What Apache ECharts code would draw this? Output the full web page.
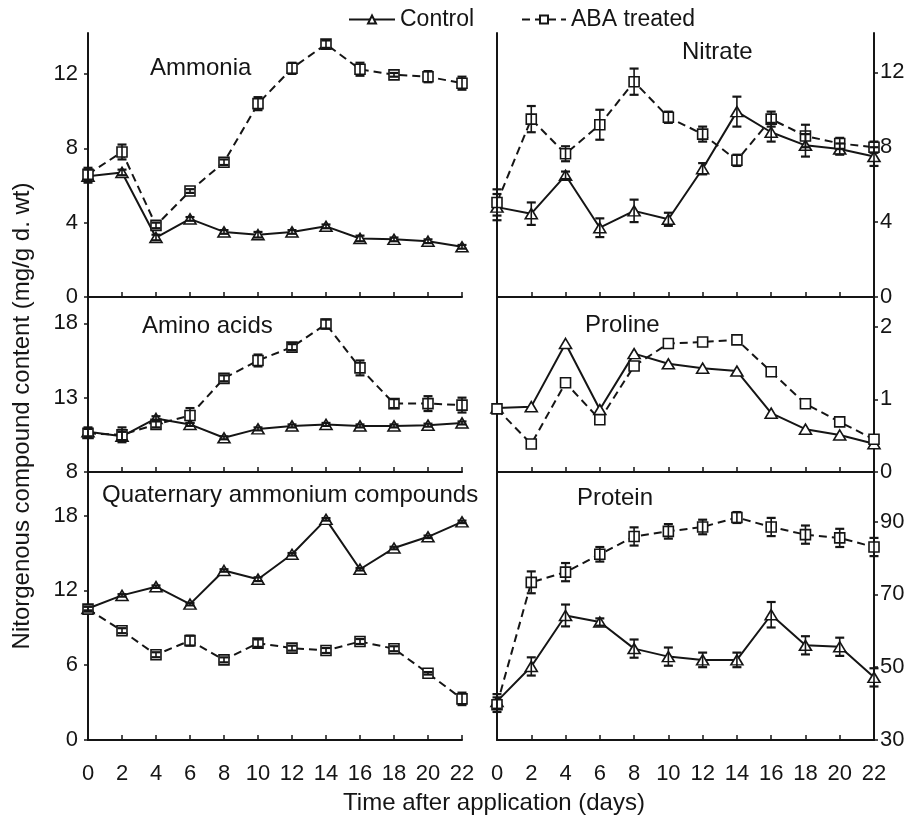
<!DOCTYPE html>
<html>
<head>
<meta charset="utf-8">
<script src="https://cdn.jsdelivr.net/npm/echarts@6/dist/echarts.min.js"></script>
<style>html,body{margin:0;padding:0;background:#fff;}#chart{width:914px;height:817px;}</style>
</head>
<body>
<div id="chart"></div>
<script>
// ---- data (days after application) ----
const days = [0, 2, 4, 6, 8, 10, 12, 14, 16, 18, 20, 22];
const xTickLabels = ['0','2','4','6','8','10','12','14','16','18','20','22'];

const ammoniaControl = [6.5, 6.7, 3.2, 4.2, 3.5, 3.35, 3.5, 3.8, 3.15, 3.1, 3.0, 2.7];
const ammoniaControlErr = [0.35, 0.15, 0.15, 0.1, 0.1, 0.15, 0.1, 0.1, 0.15, 0.1, 0.1, 0.1];
const ammoniaABA = [6.6, 7.8, 3.85, 5.7, 7.25, 10.4, 12.3, 13.6, 12.25, 11.95, 11.85, 11.5];
const ammoniaABAErr = [0.35, 0.4, 0.15, 0.1, 0.15, 0.35, 0.3, 0.2, 0.35, 0.1, 0.3, 0.35];

const nitrateControl = [4.8, 4.45, 6.5, 3.7, 4.6, 4.15, 6.85, 9.9, 8.8, 8.1, 7.9, 7.5];
const nitrateControlErr = [0.7, 0.6, 0.2, 0.5, 0.6, 0.35, 0.3, 0.8, 0.5, 0.6, 0.3, 0.5];
const nitrateABA = [5.05, 9.5, 7.65, 9.2, 11.5, 9.6, 8.7, 7.3, 9.5, 8.6, 8.2, 8.0];
const nitrateABAErr = [0.7, 0.7, 0.4, 0.8, 0.7, 0.3, 0.4, 0.3, 0.4, 0.6, 0.3, 0.3];

const aminoControl = [10.7, 10.4, 11.6, 11.2, 10.3, 10.9, 11.1, 11.2, 11.1, 11.1, 11.15, 11.3];
const aminoControlErr = [0.3, 0.3, 0.15, 0.1, 0.1, 0.1, 0.1, 0.1, 0.1, 0.1, 0.1, 0.1];
const aminoABA = [10.6, 10.5, 11.2, 11.8, 14.3, 15.5, 16.4, 17.95, 15.0, 12.6, 12.6, 12.5];
const aminoABAErr = [0.3, 0.5, 0.2, 0.5, 0.2, 0.4, 0.2, 0.3, 0.5, 0.3, 0.5, 0.5];

const prolineControl = [0.88, 0.9, 1.77, 0.86, 1.63, 1.49, 1.43, 1.39, 0.81, 0.59, 0.51, 0.39];
const prolineABA = [0.87, 0.385, 1.23, 0.72, 1.46, 1.77, 1.79, 1.82, 1.38, 0.94, 0.69, 0.45];

const quatControl = [10.55, 11.6, 12.3, 10.9, 13.6, 12.9, 14.9, 17.7, 13.7, 15.4, 16.3, 17.5];
const quatControlErr = [0.15, 0.1, 0.1, 0.1, 0.1, 0.15, 0.1, 0.1, 0.1, 0.1, 0.1, 0.1];
const quatABA = [10.5, 8.77, 6.84, 7.97, 6.43, 7.77, 7.37, 7.18, 7.9, 7.32, 5.35, 3.3];
const quatABAErr = [0.2, 0.2, 0.2, 0.4, 0.2, 0.3, 0.2, 0.2, 0.2, 0.2, 0.1, 0.5];

const proteinControl = [40.6, 50.2, 64.2, 62.4, 55.1, 52.9, 52.0, 52.0, 64.4, 56.0, 55.6, 47.2];
const proteinControlErr = [2, 2.5, 3, 1, 2.5, 2.5, 2, 2, 3.5, 2.5, 2.5, 2.5];
const proteinABA = [39.7, 73.3, 76.1, 81.0, 85.9, 87.3, 88.5, 91.1, 88.5, 86.4, 85.5, 83.0];
const proteinABAErr = [2, 3, 2.5, 2, 2.5, 2, 2, 1.5, 2.5, 2.5, 2.5, 2.5];

const panelTitles = ['Ammonia', 'Nitrate', 'Amino acids', 'Proline', 'Quaternary ammonium compounds', 'Protein'];
const seriesNames = ['Control', 'ABA treated'];

// ---- layout ----
const FONT = 'Liberation Sans';
const INK = '#151515';
const rows = [{top: 33, height: 264}, {top: 297, height: 175}, {top: 472, height: 268}];
const cols = [{left: 88, width: 374}, {left: 497, width: 377}];

const panels = [
  {c: ammoniaControl, ce: ammoniaControlErr, a: ammoniaABA, ae: ammoniaABAErr, min: 0, max: 14.2, interval: 4, tx: 145, ty: 51},
  {c: nitrateControl, ce: nitrateControlErr, a: nitrateABA, ae: nitrateABAErr, min: 0, max: 14.1, interval: 4, tx: 677, ty: 35},
  {c: aminoControl, ce: aminoControlErr, a: aminoABA, ae: aminoABAErr, min: 8, max: 19.77, interval: 5, tx: 137, ty: 309},
  {c: prolineControl, ce: null, a: prolineABA, ae: null, min: 0, max: 2.41, interval: 1, tx: 580, ty: 308},
  {c: quatControl, ce: quatControlErr, a: quatABA, ae: quatABAErr, min: 0, max: 21.5, interval: 6, tx: 97, ty: 478},
  {c: proteinControl, ce: proteinControlErr, a: proteinABA, ae: proteinABAErr, min: 30, max: 103.6, interval: 20, tx: 572, ty: 481}
];

const grid = [], xAxis = [], yAxis = [], series = [], title = [];

function errRender(params, api) {
  const x = api.value(0), y = api.value(1), e = api.value(2);
  if (!e) return null;
  const t = api.coord([x, y + e]);
  const b = api.coord([x, y - e]);
  const w = 4.5;
  const st = {stroke: INK, lineWidth: 1.6};
  return {
    type: 'group',
    children: [
      {type: 'line', shape: {x1: t[0], y1: t[1], x2: b[0], y2: b[1]}, style: st},
      {type: 'line', shape: {x1: t[0] - w, y1: t[1], x2: t[0] + w, y2: t[1]}, style: {stroke: INK, lineWidth: 2.2}},
      {type: 'line', shape: {x1: b[0] - w, y1: b[1], x2: b[0] + w, y2: b[1]}, style: {stroke: INK, lineWidth: 2.2}}
    ]
  };
}

panels.forEach((p, i) => {
  const r = Math.floor(i / 2), col = i % 2;
  const isBottom = r === 2;
  grid.push({left: cols[col].left, width: cols[col].width, top: rows[r].top, height: rows[r].height, containLabel: false});
  xAxis.push({
    type: 'value', gridIndex: i, min: 0, max: 22, interval: 2,
    axisLine: {show: true, lineStyle: {color: INK, width: 2}},
    axisTick: {show: true, inside: true, length: 5, lineStyle: {color: INK, width: 1.5}},
    axisLabel: {show: isBottom, color: INK, fontFamily: FONT, fontSize: 22, margin: 23,
      formatter: v => xTickLabels[days.indexOf(v)] || ''},
    splitLine: {show: false}
  });
  const yIdx = yAxis.length;
  yAxis.push({
    type: 'value', gridIndex: i, min: p.min, max: p.max, interval: p.interval,
    position: col === 0 ? 'left' : 'right',
    axisLine: {show: true, onZero: false, lineStyle: {color: INK, width: 2}},
    axisTick: {show: true, inside: false, length: 4, lineStyle: {color: INK, width: 1.5}},
    axisLabel: {show: true, color: INK, fontFamily: FONT, fontSize: 22, margin: col === 0 ? 10 : 6, showMaxLabel: false},
    splitLine: {show: false}
  });
  if (col === 1) {
    // left border line of the right-hand panels
    yAxis.push({
      type: 'value', gridIndex: i, min: p.min, max: p.max, position: 'left',
      axisLine: {show: true, onZero: false, lineStyle: {color: INK, width: 2}},
      axisTick: {show: false}, axisLabel: {show: false}, splitLine: {show: false}
    });
  }
  title.push({text: panelTitles[i], left: p.tx, top: p.ty,
    textStyle: {fontFamily: FONT, fontSize: 24, fontWeight: 'normal', color: INK}});

  series.push({
    name: seriesNames[0], type: 'line', xAxisIndex: i, yAxisIndex: yIdx,
    data: days.map((d, k) => [d, p.c[k]]),
    symbol: 'triangle', symbolSize: [12, 10], showAllSymbol: true,
    lineStyle: {color: INK, width: 2, type: 'solid'},
    itemStyle: {color: '#fff', borderColor: INK, borderWidth: 1.6},
    z: 3, animation: false
  });
  series.push({
    name: seriesNames[1], type: 'line', xAxisIndex: i, yAxisIndex: yIdx,
    data: days.map((d, k) => [d, p.a[k]]),
    symbol: 'rect', symbolSize: 10, showAllSymbol: true,
    lineStyle: {color: INK, width: 2, type: [8, 5]},
    itemStyle: {color: '#fff', borderColor: INK, borderWidth: 1.6},
    z: 3, animation: false
  });
  if (p.ce) {
    series.push({type: 'custom', xAxisIndex: i, yAxisIndex: yIdx, renderItem: errRender,
      data: days.map((d, k) => [d, p.c[k], p.ce[k]]), z: 4, silent: true, animation: false});
  }
  if (p.ae) {
    series.push({type: 'custom', xAxisIndex: i, yAxisIndex: yIdx, renderItem: errRender,
      data: days.map((d, k) => [d, p.a[k], p.ae[k]]), z: 4, silent: true, animation: false});
  }
});

const legendText = {fontFamily: FONT, fontSize: 23, color: INK};
const chart = echarts.init(document.getElementById('chart'), null, {renderer: 'canvas'});
chart.setOption({
  backgroundColor: '#fff',
  animation: false,
  title: title,
  legend: [
    {data: [seriesNames[0]], top: 3, left: 343, itemWidth: 46, itemHeight: 10, itemGap: 4, textStyle: legendText},
    {data: [seriesNames[1]], top: 3, left: 516, itemWidth: 44, itemHeight: 10, itemGap: 4, textStyle: legendText}
  ],
  grid: grid, xAxis: xAxis, yAxis: yAxis, series: series,
  graphic: [
    {type: 'text', x: 494, y: 803, style: {text: 'Time after application (days)', fontFamily: FONT, fontSize: 24, fill: INK, textAlign: 'center', textVerticalAlign: 'middle'}},
    {type: 'text', x: 22, y: 416, rotation: Math.PI / 2,
      style: {text: 'Nitorgenous compound content (mg/g d. wt)', fontFamily: FONT, fontSize: 24, fill: INK, textAlign: 'center', textVerticalAlign: 'middle'}}
  ]
});
</script>
</body>
</html>
